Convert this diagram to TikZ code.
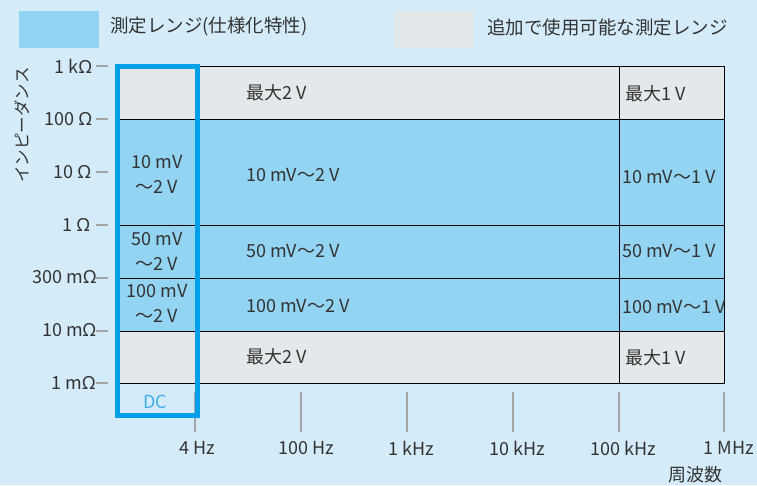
\documentclass[tikz,border=0pt]{standalone}
\usepackage{fontspec}
\setmainfont{Noto Sans CJK JP}
\newfontfamily\omegafont{Noto Sans}
\newcommand{\Ohm}{{\omegafont Ω}}
\definecolor{bgc}{HTML}{D4ECFA}
\definecolor{specblue}{HTML}{92D4F2}
\definecolor{addgray}{HTML}{E3E8EA}
\definecolor{boxblue}{HTML}{00A0E9}
\definecolor{tickgray}{HTML}{A6A6A6}
\definecolor{txt}{HTML}{333333}
\definecolor{dcblue}{HTML}{40AEE6}
\tikzset{
  swatch/.style={rectangle, inner sep=0pt, minimum width=80, minimum height=37},
  cellbox/.style={rectangle, draw=black, line width=1.4, inner sep=0pt, anchor=north west},
  specc/.style={cellbox, fill=specblue},
  addc/.style={cellbox, fill=addgray},
  lbl/.style={text=txt, font=\fontsize{18}{25}\selectfont, inner sep=0pt},
  axlbl/.style={lbl, anchor=east},
  ticky/.style={draw=tickgray, line width=2},
  tickx/.style={draw=tickgray, line width=2},
}
\begin{document}
\begin{tikzpicture}[x=1pt,y=-1pt]
\fill[bgc] (0,0) rectangle (757,485);
\useasboundingbox (0,0) rectangle (757,485);

% legend
\node[swatch, fill=specblue] (sw1) at (59,29.5) {};
\node[lbl, anchor=west, font=\fontsize{18.5}{22}\selectfont] (lg1) at (110,27) {測定レンジ(仕様化特性)};
\node[swatch, fill=addgray] (sw2) at (434,29.5) {};
\node[lbl, anchor=west, font=\fontsize{18.5}{22}\selectfont] (lg2) at (487,27) {追加で使用可能な測定レンジ};

% y axis label
\node[lbl, rotate=90, font=\fontsize{16.5}{20}\selectfont] (ylab) at (22,125) {インピーダンス};

% cells: columns 118 / 198.5 / 618.5 / 724 ; rows 66 / 119 / 225 / 277.5 / 330.5 / 383
\foreach \xa/\w/\c in {118/80.5/a, 198.5/420/b, 618.5/105.5/c}{
  \node[addc,  minimum width=\w, minimum height=53]   (\c1) at (\xa,66) {};
  \node[specc, minimum width=\w, minimum height=106]  (\c2) at (\xa,119) {};
  \node[specc, minimum width=\w, minimum height=52.5] (\c3) at (\xa,225) {};
  \node[specc, minimum width=\w, minimum height=53]   (\c4) at (\xa,277.5) {};
  \node[addc,  minimum width=\w, minimum height=52.5] (\c5) at (\xa,330.5) {};
}

% y ticks
\foreach \yy/\t/\ex/\n in {66/1 k\Ohm/92/t1, 119/100 \Ohm/92/t2, 172/10 \Ohm/91/t3, 225/1 \Ohm/90/t4, 277.5/300 m\Ohm/96.5/t5, 330.5/10 m\Ohm/96/t6, 383/1 m\Ohm/95.5/t7}{
  \coordinate (\n a) at (96,\yy);
  \coordinate (\n b) at (108,\yy);
  \draw[ticky] (\n a) -- (\n b);
  \node[axlbl] (\n l) at (\ex,\yy) {\t};
}

% x ticks
\foreach \xx/\t/\dx/\n in {195/4 Hz/2/f1, 301/100 Hz/5/f2, 406.5/1 kHz/5/f3, 512.5/10 kHz/5/f4, 618.5/100 kHz/5/f5, 724/1 MHz/5/f6}{
  \coordinate (\n a) at (\xx,392);
  \coordinate (\n b) at (\xx,432);
  \draw[tickx] (\n a) -- (\n b);
  \node[lbl] (\n l) at (\xx+\dx,448) {\t};
}
\node[lbl] (flab) at (695,475) {周波数};

% labels column A
\node[lbl, align=center] (la2) at (157,174) {10 mV\\～2 V};
\node[lbl, align=center] (la3) at (157,251) {50 mV\\～2 V};
\node[lbl, align=center] (la4) at (157,303) {100 mV\\～2 V};
\node[lbl, text=dcblue] (dc) at (155,402) {DC};

% labels column B
\node[lbl, anchor=west] (lb1) at (246,93) {最大2 V};
\node[lbl, anchor=west] (lb2) at (246,175) {10 mV～2 V};
\node[lbl, anchor=west] (lb3) at (246,251) {50 mV～2 V};
\node[lbl, anchor=west] (lb4) at (246,306) {100 mV～2 V};
\node[lbl, anchor=west] (lb5) at (246,357) {最大2 V};

% labels column C
\node[lbl, anchor=west] (lc1) at (625,94) {最大1 V};
\node[lbl, anchor=west] (lc2) at (622,177) {10 mV～1 V};
\node[lbl, anchor=west] (lc3) at (622,251) {50 mV～1 V};
\node[lbl, anchor=west] (lc4) at (622,307) {100 mV～1 V};
\node[lbl, anchor=west] (lc5) at (625,358) {最大1 V};

% DC / specification frame
\node[rectangle, draw=boxblue, line width=5, inner sep=0pt, minimum width=80, minimum height=349] (frame) at (157,241) {};
\end{tikzpicture}
\end{document}
